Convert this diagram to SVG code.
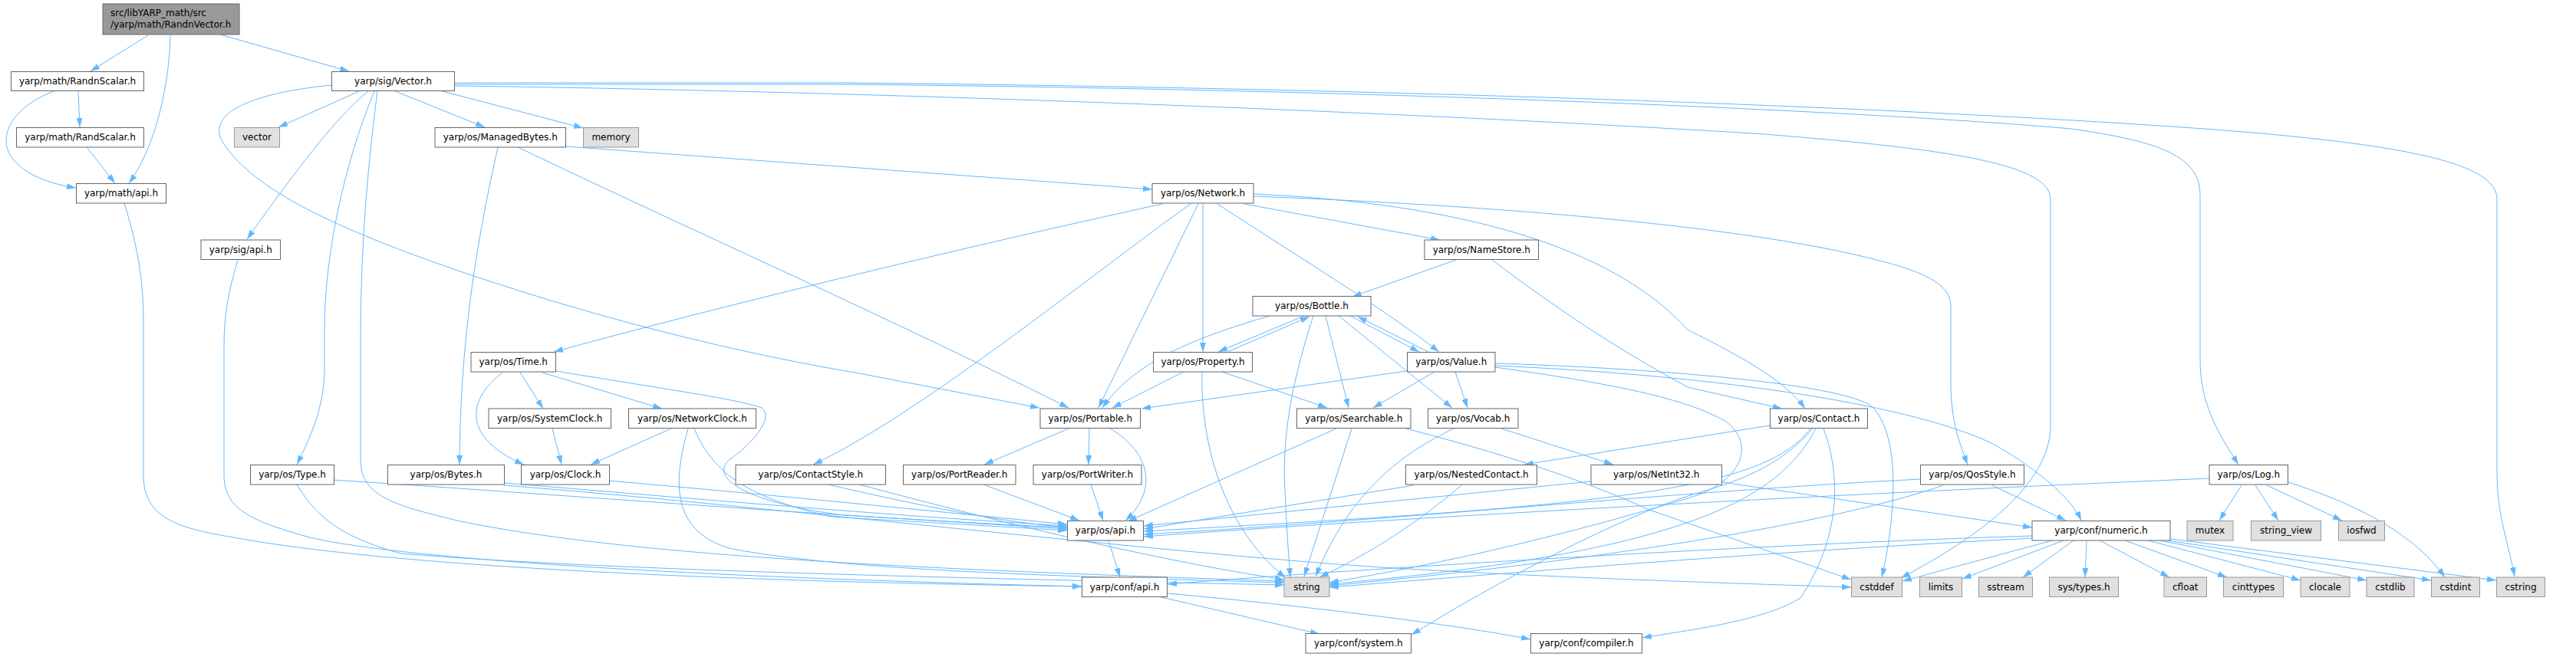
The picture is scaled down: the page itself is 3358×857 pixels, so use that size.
<svg xmlns="http://www.w3.org/2000/svg" width="3358" height="857" viewBox="0 0 3358 857">
<defs>
<marker id="a" viewBox="0 0 12 8" refX="12" refY="4" markerWidth="12" markerHeight="8" markerUnits="userSpaceOnUse" orient="auto"><path d="M0,0 L12,4 L0,8 z" fill="#63b8ff"/></marker>
<style>
.n rect{fill:#ffffff;stroke:#666666;stroke-width:1}
.g rect{fill:#e0e0e0;stroke:#999999;stroke-width:1}
.r rect{fill:#999999;stroke:#666666;stroke-width:1}
text{font-family:"DejaVu Sans","Liberation Sans",sans-serif;font-size:12px;text-anchor:middle;fill:#000000}
.e path{fill:none;stroke:#63b8ff;stroke-width:1;marker-end:url(#a)}
</style>
</defs>
<rect width="3358" height="857" fill="#ffffff"/>
<g id="edges" class="e">
<path d="M193,46 L118,93"/>
<path d="M222,46 C220,127 197,200 168,239"/>
<path d="M287,45 L455,93"/>
<path d="M102,119 L104,166"/>
<path d="M70,119 C20,138 -5,175 15,205 C32,228 65,240 99,245"/>
<path d="M113,192 L150,239"/>
<path d="M162,265 C185,340 187,380 187,430 L187,620 C187,680 240,690 310,702 C420,722 700,755 1410,765"/>
<path d="M310,339 C298,380 292,410 292,450 L292,620 C292,665 330,680 400,700 C460,716 700,748 1410,765"/>
<path d="M468,119 L363,166"/>
<path d="M573,118 L760,167"/>
<path d="M513,118 L632,166"/>
<path d="M480,119 C440,150 380,230 322,312"/>
<path d="M488,119 C450,210 423,330 423,430 L423,480 C423,530 405,570 387,606"/>
<path d="M492,119 C475,250 470,350 470,450 L470,600 C470,650 520,660 600,680 C800,720 1100,740 1674,758"/>
<path d="M433,111 C320,122 270,150 290,185 C330,250 450,300 560,340 C700,390 900,450 1120,487 L1355,532"/>
<path d="M593,108 L1100,108 C1800,115 2500,140 2900,170 C3150,190 3255,215 3255,260 L3255,620 C3255,670 3270,710 3278,752"/>
<path d="M593,110 L1100,110 C1900,118 2500,150 2700,168 C2820,185 2868,205 2868,255 L2868,470 C2868,530 2895,570 2918,606"/>
<path d="M593,112 C1200,120 1900,150 2300,175 C2550,195 2673,215 2673,260 L2673,555 C2673,640 2560,710 2478,754"/>
<path d="M649,192 C625,300 600,430 599,606"/>
<path d="M675,192 C900,300 1150,410 1393,532"/>
<path d="M738,191 L1502,247"/>
<path d="M1515,266 C1200,335 900,410 722,459"/>
<path d="M1552,266 C1420,360 1200,540 1060,606"/>
<path d="M1562,266 L1432,532"/>
<path d="M1568,266 L1568,459"/>
<path d="M1587,266 C1700,340 1800,400 1876,459"/>
<path d="M1622,266 L1877,313"/>
<path d="M1634,253 C1900,265 2100,320 2200,430 C2280,470 2330,500 2353,533"/>
<path d="M1634,256 C2000,270 2300,300 2450,340 C2530,360 2543,380 2543,400 L2543,500 C2543,550 2555,580 2565,606"/>
<path d="M1898,339 L1763,387"/>
<path d="M1945,339 C2000,380 2080,440 2200,505 L2323,533"/>
<path d="M1700,412 L1588,459"/>
<path d="M1600,459 L1707,413"/>
<path d="M1760,412 L1850,459"/>
<path d="M1862,459 L1770,413"/>
<path d="M1655,412 C1560,440 1480,470 1437,532"/>
<path d="M1728,412 L1758,532"/>
<path d="M1745,412 L1893,532"/>
<path d="M1712,412 C1690,480 1670,560 1675,640 C1678,700 1680,730 1682,753"/>
<path d="M1543,485 L1450,532"/>
<path d="M1593,485 L1730,532"/>
<path d="M1567,485 C1565,560 1585,680 1676,754"/>
<path d="M1834,484 L1488,533"/>
<path d="M1870,485 L1790,532"/>
<path d="M1897,485 L1913,532"/>
<path d="M1949,474 C2150,480 2400,500 2440,530 C2480,570 2470,680 2453,753"/>
<path d="M1949,477 C2250,490 2500,530 2600,580 C2660,615 2700,650 2713,679"/>
<path d="M1949,479 C2100,500 2200,520 2250,550 C2290,580 2270,630 2200,650 C2000,710 1850,740 1733,760"/>
<path d="M1742,559 L1470,680"/>
<path d="M1762,559 L1700,752"/>
<path d="M1833,559 C1950,590 2050,620 2150,665 L2413,756"/>
<path d="M1895,559 C1830,590 1760,640 1715,752"/>
<path d="M1957,559 L2103,606"/>
<path d="M2074,628 L1491,686"/>
<path d="M2245,629 L2649,688"/>
<path d="M1843,633 L1491,690"/>
<path d="M1905,633 C1850,680 1790,720 1720,753"/>
<path d="M2307,555 L1987,606"/>
<path d="M2360,559 C2300,640 2100,660 1491,693"/>
<path d="M2367,559 C2320,650 2200,720 1733,762"/>
<path d="M2377,559 C2400,620 2400,700 2347,780 C2300,810 2200,822 2141,832"/>
<path d="M2363,559 C2320,610 2260,630 2203,646 C2100,680 1950,760 1840,828"/>
<path d="M2504,625 C2200,640 1800,680 1491,697"/>
<path d="M2533,633 C2400,680 2100,730 1733,764"/>
<path d="M2597,633 L2693,679"/>
<path d="M2880,624 C2500,640 1900,670 1491,700"/>
<path d="M2922,633 L2893,679"/>
<path d="M2940,633 L2970,679"/>
<path d="M2955,633 L3053,679"/>
<path d="M2983,629 C3080,660 3150,700 3187,753"/>
<path d="M2649,699 C2300,710 1800,740 1522,762"/>
<path d="M2649,702 C2300,720 2000,745 1733,766"/>
<path d="M2675,705 L2480,758"/>
<path d="M2690,705 L2558,755"/>
<path d="M2703,705 L2637,753"/>
<path d="M2720,705 L2718,753"/>
<path d="M2737,705 L2828,753"/>
<path d="M2770,705 L2903,753"/>
<path d="M2800,705 L2999,757"/>
<path d="M2815,705 L3085,757"/>
<path d="M2825,705 L3169,757"/>
<path d="M2829,703 L3254,757"/>
<path d="M1445,705 L1460,753"/>
<path d="M1522,774 C1700,790 1900,815 1995,834"/>
<path d="M1510,778 L1720,827"/>
<path d="M1393,559 L1283,606"/>
<path d="M1420,559 L1419,606"/>
<path d="M1447,559 C1500,590 1510,640 1467,679"/>
<path d="M1282,632 L1407,679"/>
<path d="M1422,632 L1438,679"/>
<path d="M655,486 C610,520 600,570 683,606"/>
<path d="M678,486 L708,533"/>
<path d="M707,486 L863,533"/>
<path d="M725,484 C850,505 960,520 993,532 C1010,545 980,580 950,600 C920,630 1000,660 1100,672 L1391,690"/>
<path d="M720,559 L732,606"/>
<path d="M875,559 L770,606"/>
<path d="M897,559 C880,620 870,690 950,715 C1100,745 1400,752 1674,760"/>
<path d="M905,559 C930,620 980,650 1083,674 L1391,692"/>
<path d="M794,627 C1000,645 1200,665 1391,684"/>
<path d="M657,630 C900,650 1150,672 1391,686"/>
<path d="M657,633 C1000,660 1500,720 1800,740 C2050,755 2300,762 2413,766"/>
<path d="M435,626 C800,650 1100,675 1391,688"/>
<path d="M387,632 C410,670 440,700 523,722 C800,745 1300,755 1674,763"/>
<path d="M1080,632 C1200,660 1300,680 1391,688"/>
<path d="M1120,632 C1300,680 1500,730 1674,756"/>
</g>
<g id="n_root" class="r"><rect x="134" y="5" width="178" height="40"/><text x="144" y="20.5" style="text-anchor:start">src/libYARP_math/src</text><text x="144" y="36" style="text-anchor:start">/yarp/math/RandnVector.h</text></g>
<g id="n_randnscalar" class="n"><rect x="14.5" y="93.5" width="173" height="25"/><text x="101" y="110">yarp/math/RandnScalar.h</text></g>
<g id="n_randscalar" class="n"><rect x="21.5" y="166.5" width="166" height="25.5"/><text x="104.5" y="183.3">yarp/math/RandScalar.h</text></g>
<g id="n_mathapi" class="n"><rect x="99.5" y="239.5" width="117" height="25.5"/><text x="158" y="256.3">yarp/math/api.h</text></g>
<g id="n_vector" class="g"><rect x="305.5" y="166.5" width="59" height="25.5"/><text x="335" y="183.3">vector</text></g>
<g id="n_sigapi" class="n"><rect x="262" y="313" width="103.5" height="25.5"/><text x="313.75" y="329.8">yarp/sig/api.h</text></g>
<g id="n_sigvector" class="n"><rect x="432.5" y="93.5" width="160" height="25"/><text x="512.5" y="110">yarp/sig/Vector.h</text></g>
<g id="n_managedbytes" class="n"><rect x="567" y="166.5" width="170.5" height="25.5"/><text x="652.25" y="183.3">yarp/os/ManagedBytes.h</text></g>
<g id="n_memory" class="g"><rect x="760.5" y="166.5" width="72" height="25.5"/><text x="796.5" y="183.3">memory</text></g>
<g id="n_network" class="n"><rect x="1502" y="239.5" width="132" height="25.5"/><text x="1568" y="256.3">yarp/os/Network.h</text></g>
<g id="n_namestore" class="n"><rect x="1857" y="313" width="148.5" height="25.5"/><text x="1931.25" y="329.8">yarp/os/NameStore.h</text></g>
<g id="n_bottle" class="n"><rect x="1633" y="386.5" width="154" height="25.5"/><text x="1710" y="403.3">yarp/os/Bottle.h</text></g>
<g id="n_time" class="n"><rect x="614" y="459.5" width="110.5" height="25.5"/><text x="669.25" y="476.3">yarp/os/Time.h</text></g>
<g id="n_property" class="n"><rect x="1503.5" y="459.5" width="129" height="25.5"/><text x="1568" y="476.3">yarp/os/Property.h</text></g>
<g id="n_value" class="n"><rect x="1834.5" y="459.5" width="114.5" height="25.5"/><text x="1891.75" y="476.3">yarp/os/Value.h</text></g>
<g id="n_systemclock" class="n"><rect x="637" y="533" width="159.5" height="25.5"/><text x="716.75" y="549.8">yarp/os/SystemClock.h</text></g>
<g id="n_networkclock" class="n"><rect x="819.5" y="533" width="166" height="25.5"/><text x="902.5" y="549.8">yarp/os/NetworkClock.h</text></g>
<g id="n_portable" class="n"><rect x="1356" y="533" width="130.5" height="25.5"/><text x="1421.25" y="549.8">yarp/os/Portable.h</text></g>
<g id="n_searchable" class="n"><rect x="1690.5" y="533" width="148.5" height="25.5"/><text x="1764.75" y="549.8">yarp/os/Searchable.h</text></g>
<g id="n_vocab" class="n"><rect x="1861.5" y="533" width="117.5" height="25.5"/><text x="1920.25" y="549.8">yarp/os/Vocab.h</text></g>
<g id="n_contact" class="n"><rect x="2307.5" y="533" width="127" height="25.5"/><text x="2371" y="549.8">yarp/os/Contact.h</text></g>
<g id="n_type" class="n"><rect x="326.5" y="606.5" width="109" height="25.5"/><text x="381" y="623.3">yarp/os/Type.h</text></g>
<g id="n_bytes" class="n"><rect x="505.5" y="606.5" width="152" height="25.5"/><text x="581.5" y="623.3">yarp/os/Bytes.h</text></g>
<g id="n_clock" class="n"><rect x="679.5" y="606.5" width="115" height="25.5"/><text x="737" y="623.3">yarp/os/Clock.h</text></g>
<g id="n_contactstyle" class="n"><rect x="959" y="606.5" width="195.5" height="25.5"/><text x="1056.75" y="623.3">yarp/os/ContactStyle.h</text></g>
<g id="n_portreader" class="n"><rect x="1177.5" y="606.5" width="146.5" height="25.5"/><text x="1250.75" y="623.3">yarp/os/PortReader.h</text></g>
<g id="n_portwriter" class="n"><rect x="1347" y="606.5" width="141" height="25.5"/><text x="1417.5" y="623.3">yarp/os/PortWriter.h</text></g>
<g id="n_nestedcontact" class="n"><rect x="1832.5" y="606.5" width="171" height="25.5"/><text x="1918" y="623.3">yarp/os/NestedContact.h</text></g>
<g id="n_netint32" class="n"><rect x="2074" y="606.5" width="170.5" height="25.5"/><text x="2159.25" y="623.3">yarp/os/NetInt32.h</text></g>
<g id="n_qosstyle" class="n"><rect x="2503.5" y="606.5" width="135" height="25.5"/><text x="2571" y="623.3">yarp/os/QosStyle.h</text></g>
<g id="n_log" class="n"><rect x="2880" y="606.5" width="102.5" height="25.5"/><text x="2931.25" y="623.3">yarp/os/Log.h</text></g>
<g id="n_osapi" class="n"><rect x="1391.5" y="679.5" width="99" height="25.5"/><text x="1441" y="696.3">yarp/os/api.h</text></g>
<g id="n_numeric" class="n"><rect x="2649" y="679.5" width="180" height="25.5"/><text x="2739" y="696.3">yarp/conf/numeric.h</text></g>
<g id="n_mutex" class="g"><rect x="2851" y="679.5" width="60" height="25.5"/><text x="2881" y="696.3">mutex</text></g>
<g id="n_string_view" class="g"><rect x="2934.5" y="679.5" width="91" height="25.5"/><text x="2980" y="696.3">string_view</text></g>
<g id="n_iosfwd" class="g"><rect x="3048.5" y="679.5" width="60" height="25.5"/><text x="3078.5" y="696.3">iosfwd</text></g>
<g id="n_confapi" class="n"><rect x="1410.5" y="753" width="111" height="25.5"/><text x="1466" y="769.8">yarp/conf/api.h</text></g>
<g id="n_string" class="g"><rect x="1674" y="753" width="59" height="25.5"/><text x="1703.5" y="769.8">string</text></g>
<g id="n_cstddef" class="g"><rect x="2413.5" y="753" width="66" height="25.5"/><text x="2446.5" y="769.8">cstddef</text></g>
<g id="n_limits" class="g"><rect x="2502.5" y="753" width="55" height="25.5"/><text x="2530" y="769.8">limits</text></g>
<g id="n_sstream" class="g"><rect x="2579.5" y="753" width="70" height="25.5"/><text x="2614.5" y="769.8">sstream</text></g>
<g id="n_systypes" class="g"><rect x="2671.5" y="753" width="90" height="25.5"/><text x="2716.5" y="769.8">sys/types.h</text></g>
<g id="n_cfloat" class="g"><rect x="2821" y="753" width="55.5" height="25.5"/><text x="2848.75" y="769.8">cfloat</text></g>
<g id="n_cinttypes" class="g"><rect x="2898.5" y="753" width="78" height="25.5"/><text x="2937.5" y="769.8">cinttypes</text></g>
<g id="n_clocale" class="g"><rect x="2999" y="753" width="64" height="25.5"/><text x="3031" y="769.8">clocale</text></g>
<g id="n_cstdlib" class="g"><rect x="3085" y="753" width="62" height="25.5"/><text x="3116" y="769.8">cstdlib</text></g>
<g id="n_cstdint" class="g"><rect x="3169.5" y="753" width="63" height="25.5"/><text x="3201" y="769.8">cstdint</text></g>
<g id="n_cstring" class="g"><rect x="3254.5" y="753" width="63" height="25.5"/><text x="3286" y="769.8">cstring</text></g>
<g id="n_confsystem" class="n"><rect x="1702" y="826.5" width="137.5" height="25.5"/><text x="1770.75" y="843.3">yarp/conf/system.h</text></g>
<g id="n_confcompiler" class="n"><rect x="1995.5" y="826.5" width="145" height="25.5"/><text x="2068" y="843.3">yarp/conf/compiler.h</text></g>
</svg>
